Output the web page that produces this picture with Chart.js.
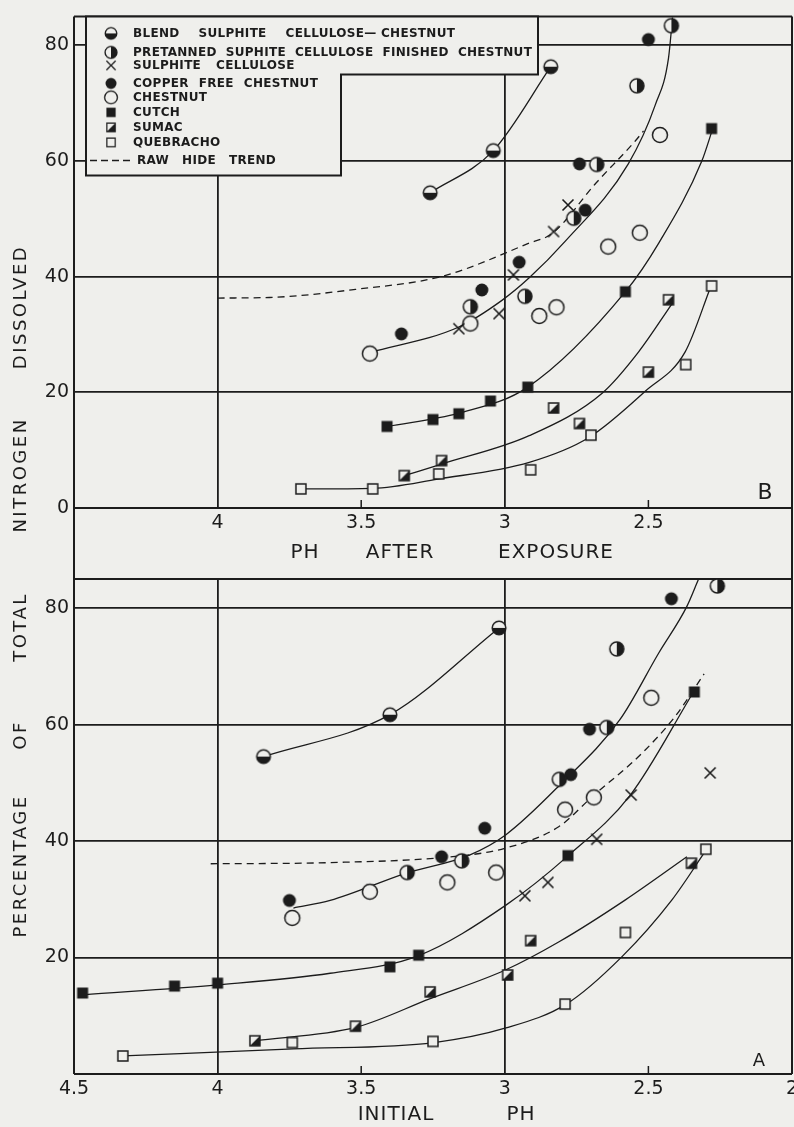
<!DOCTYPE html>
<html>
<head>
<meta charset="utf-8">
<title>Percentage of total nitrogen dissolved vs pH</title>
<script src="https://cdn.jsdelivr.net/npm/chart.js@4.4.1/dist/chart.umd.min.js"></script>
<style>
  html, body { margin: 0; padding: 0; }
  body { width: 794px; height: 1127px; overflow: hidden; position: relative; background: #efefec;
         font-family: "DejaVu Sans", sans-serif; color: #1c1c1c; }
  canvas { position: absolute; left: 0; }
  #panelB { top: 0; }
  #panelA { top: 560px; }
  .t { position: absolute; white-space: nowrap; line-height: 1; font-size: 20px; letter-spacing: 1px;
       transform: translate(-50%, -50%); }
  .v { font-size: 18px; letter-spacing: 2.5px; transform: translate(-50%, -50%) rotate(-90deg); }
</style>
</head>
<body>
<canvas id="panelB" width="820" height="560"></canvas>
<canvas id="panelA" width="820" height="567"></canvas>

<div class="t v" style="left:20px;top:307px">DISSOLVED</div>
<div class="t v" style="left:20px;top:475px">NITROGEN</div>
<div class="t v" style="left:20px;top:627px">TOTAL</div>
<div class="t v" style="left:20px;top:735px">OF</div>
<div class="t v" style="left:20px;top:866px">PERCENTAGE</div>

<div class="t" style="left:305px;top:551px">PH</div>
<div class="t" style="left:400px;top:551px">AFTER</div>
<div class="t" style="left:556px;top:551px">EXPOSURE</div>

<div class="t" style="left:396px;top:1113px">INITIAL</div>
<div class="t" style="left:521px;top:1113px">PH</div>

<script>
const ink = '#1c1c1c';
const paper = '#efefec';

// axis ticks
const phTicksB = [4, 3.5, 3, 2.5];
const phTicksA = [4.5, 4, 3.5, 3, 2.5, 2];
const nTicksB = [0, 20, 40, 60, 80];
const nTicksA = [20, 40, 60, 80];
const phRuled = [4, 3];        // full vertical rules
const phNotched = [3.5, 2.5];  // short ticks only

// Panel B - pH after exposure   [pH, % of total N dissolved]
const blendB = [[3.26, 54.5], [3.04, 61.8], [2.84, 76.3]];
const pretannedB = [[3.12, 34.8], [2.93, 36.6], [2.76, 50.1], [2.68, 59.4], [2.54, 73.0], [2.42, 83.4]];
const sulphiteB = [[3.16, 31.0], [3.02, 33.6], [2.97, 40.3], [2.83, 47.8], [2.78, 52.4]];
const copperB = [[3.36, 30.1], [3.08, 37.7], [2.95, 42.5], [2.72, 51.5], [2.74, 59.5], [2.50, 81.0]];
const chestnutB = [[3.47, 26.7], [3.12, 31.9], [2.88, 33.2], [2.82, 34.7], [2.64, 45.2], [2.53, 47.6], [2.46, 64.5]];
const cutchB = [[3.41, 14.1], [3.25, 15.3], [3.16, 16.3], [3.05, 18.5], [2.92, 20.9], [2.58, 37.4], [2.28, 65.6]];
const sumacB = [[3.35, 5.6], [3.22, 8.2], [2.83, 17.3], [2.74, 14.6], [2.50, 23.5], [2.43, 36.0]];
const quebrachoB = [[3.71, 3.3], [3.46, 3.3], [3.23, 5.9], [2.91, 6.6], [2.70, 12.6], [2.37, 24.8], [2.28, 38.4]];

// drawn curves, panel B
const mainFitB = [[3.47, 26.9], [3.16, 31.3], [3.01, 35.9], [2.915, 39.8], [2.79, 46.1], [2.57, 59.5], [2.476, 69.7], [2.43, 77.8], [2.416, 84.8]];
const rawFitB = [[4.0, 36.3], [3.82, 36.4], [3.52, 37.8], [3.215, 40.1], [2.915, 45.8], [2.834, 47.5], [2.684, 56.1], [2.545, 63.5], [2.517, 65.2]];
const cutchFitB = [[3.41, 14.1], [3.16, 16.4], [2.92, 20.9], [2.58, 37.4], [2.464, 45.8], [2.314, 60.0], [2.276, 65.6]];
const sumacFitB = [[3.35, 5.6], [3.22, 7.6], [2.915, 12.5], [2.66, 19.9], [2.534, 27.0], [2.418, 35.3]];
const quebFitB = [[3.71, 3.3], [3.46, 3.4], [3.233, 5.0], [2.915, 7.9], [2.707, 12.2], [2.511, 20.2], [2.372, 27.0], [2.282, 38.4]];

// Panel A - initial pH
const blendA = [[3.84, 54.5], [3.40, 61.7], [3.02, 76.6]];
const pretannedA = [[3.34, 34.6], [3.15, 36.6], [2.81, 50.6], [2.645, 59.5], [2.61, 73.0], [2.26, 83.8]];
const sulphiteA = [[2.93, 30.6], [2.85, 32.9], [2.68, 40.3], [2.56, 47.9], [2.285, 51.7]];
const copperA = [[3.75, 29.8], [3.22, 37.3], [3.07, 42.2], [2.77, 51.4], [2.705, 59.2], [2.42, 81.6]];
const chestnutA = [[3.74, 26.8], [3.47, 31.3], [3.20, 32.9], [3.03, 34.6], [2.79, 45.4], [2.69, 47.5], [2.49, 64.6]];
const cutchA = [[4.47, 13.9], [4.15, 15.1], [4.00, 15.6], [3.40, 18.4], [3.30, 20.4], [2.78, 37.5], [2.34, 65.6]];
const sumacA = [[3.87, 5.7], [3.52, 8.2], [3.26, 14.1], [2.99, 17.0], [2.91, 22.9], [2.35, 36.2]];
const quebrachoA = [[4.33, 3.1], [3.74, 5.4], [3.25, 5.6], [2.79, 12.0], [2.58, 24.3], [2.30, 38.6]];

// drawn curves, panel A
const mainFitA = [[3.736, 28.5], [3.608, 29.8], [3.343, 34.5], [3.123, 37.6], [2.996, 41.1], [2.811, 49.5], [2.60, 60.8], [2.464, 72.3], [2.366, 80.3], [2.326, 84.9]];
const rawFitA = [[4.024, 36.1], [3.608, 36.3], [3.146, 37.5], [2.996, 38.8], [2.811, 42.5], [2.696, 47.6], [2.522, 55.1], [2.407, 61.4], [2.306, 68.7]];
const cutchFitA = [[4.469, 13.6], [4.0, 15.3], [3.608, 17.3], [3.302, 20.3], [2.996, 29.0], [2.779, 37.5], [2.563, 47.9], [2.343, 65.6]];
const sumacFitA = [[3.874, 5.7], [3.52, 8.0], [3.262, 12.9], [2.996, 17.9], [2.811, 22.7], [2.58, 29.9], [2.366, 37.3]];
const quebFitA = [[4.328, 3.1], [3.735, 4.3], [3.246, 5.4], [2.996, 7.9], [2.786, 12.0], [2.591, 20.2], [2.418, 29.9], [2.297, 38.6]];

// marker pictures, used as pointStyle
function makeMarker(kind) {
  const c = document.createElement('canvas');
  c.width = 20; c.height = 20;
  const g = c.getContext('2d');
  const m = 10;
  g.lineWidth = 1.5;
  g.strokeStyle = ink;
  const circle = r => { g.beginPath(); g.arc(m, m, r, 0, Math.PI * 2); };
  if (kind === 'blend') {
    circle(6.8); g.fillStyle = paper; g.fill();
    g.beginPath(); g.arc(m, m, 6.8, 0, Math.PI); g.closePath(); g.fillStyle = ink; g.fill();
    circle(6.8); g.stroke();
  } else if (kind === 'pretanned') {
    circle(7); g.fillStyle = paper; g.fill();
    g.beginPath(); g.arc(m, m, 7, -Math.PI / 2, Math.PI / 2); g.closePath(); g.fillStyle = ink; g.fill();
    circle(7); g.stroke();
  } else if (kind === 'cross') {
    g.lineWidth = 1.6;
    g.beginPath();
    g.moveTo(m - 5.5, m - 5.5); g.lineTo(m + 5.5, m + 5.5);
    g.moveTo(m + 5.5, m - 5.5); g.lineTo(m - 5.5, m + 5.5);
    g.stroke();
  } else if (kind === 'copper') {
    circle(6.5); g.fillStyle = ink; g.fill();
  } else if (kind === 'chestnut') {
    circle(7.5); g.fillStyle = paper; g.fill(); g.stroke();
  } else if (kind === 'cutch') {
    g.fillStyle = ink; g.fillRect(m - 5.5, m - 5.5, 11, 11);
  } else if (kind === 'sumac') {
    g.fillStyle = paper; g.fillRect(m - 5, m - 5, 10, 10);
    g.beginPath(); g.moveTo(m + 5, m - 5); g.lineTo(m + 5, m + 5); g.lineTo(m - 5, m + 5); g.closePath();
    g.fillStyle = ink; g.fill();
    g.strokeRect(m - 5, m - 5, 10, 10);
  } else if (kind === 'quebracho') {
    g.fillStyle = paper; g.fillRect(m - 5, m - 5, 10, 10);
    g.strokeRect(m - 5, m - 5, 10, 10);
  }
  return c;
}

const markers = {};
['blend', 'pretanned', 'cross', 'copper', 'chestnut', 'cutch', 'sumac', 'quebracho']
  .forEach(k => { markers[k] = makeMarker(k); });

const toXY = arr => arr.map(([x, y]) => ({ x, y }));

// frame, short ticks, panel letter
const framePlugin = {
  id: 'frame',
  beforeDatasetsDraw(chart, args, opts) {
    const { ctx, chartArea: a } = chart;
    const x = chart.scales.x;
    ctx.save();
    ctx.strokeStyle = ink;
    ctx.lineWidth = 2;
    ctx.beginPath();
    ctx.moveTo(a.left, a.top); ctx.lineTo(a.right, a.top);
    ctx.moveTo(a.left, a.bottom); ctx.lineTo(a.right, a.bottom);
    const y0 = opts.up ? 0 : a.top;
    const y1 = opts.down ? chart.height : a.bottom;
    ctx.moveTo(a.left, y0); ctx.lineTo(a.left, y1);
    ctx.moveTo(a.right, y0); ctx.lineTo(a.right, y1);
    ctx.stroke();
    ctx.lineWidth = 1.5;
    ctx.beginPath();
    phNotched.forEach(v => {
      const px = x.getPixelForValue(v);
      ctx.moveTo(px, a.bottom); ctx.lineTo(px, a.bottom - 8);
    });
    ctx.stroke();
    ctx.fillStyle = ink;
    ctx.font = opts.font;
    ctx.textAlign = 'center';
    ctx.textBaseline = 'middle';
    ctx.fillText(opts.letter, a.right - opts.dx, a.bottom - opts.dy);
    ctx.restore();
  }
};

// stepped key box of panel B
const legendRows = [
  { kind: 'blend', text: 'BLEND SULPHITE CELLULOSE—\u00a0CHESTNUT', y: 17, gap: 19 },
  { kind: 'pretanned', text: 'PRETANNED SUPHITE CELLULOSE FINISHED CHESTNUT', y: 36, gap: 9 },
  { kind: 'cross', text: 'SULPHITE CELLULOSE', y: 49, gap: 15 },
  { kind: 'copper', text: 'COPPER FREE CHESTNUT', y: 67, gap: 10 },
  { kind: 'chestnut', text: 'CHESTNUT', y: 81, gap: 10 },
  { kind: 'cutch', text: 'CUTCH', y: 96, gap: 10 },
  { kind: 'sumac', text: 'SUMAC', y: 111, gap: 10 },
  { kind: 'quebracho', text: 'QUEBRACHO', y: 126, gap: 10 },
  { kind: 'dash', text: 'RAW HIDE TREND', y: 144, gap: 13 }
];

const keyPlugin = {
  id: 'keyBox',
  afterDatasetsDraw(chart) {
    const { ctx, chartArea: a } = chart;
    const L = a.left + 12, T = a.top;
    ctx.save();
    ctx.beginPath();
    ctx.moveTo(L, T);
    ctx.lineTo(a.left + 464, T);
    ctx.lineTo(a.left + 464, T + 58);
    ctx.lineTo(a.left + 267, T + 58);
    ctx.lineTo(a.left + 267, T + 159);
    ctx.lineTo(L, T + 159);
    ctx.closePath();
    ctx.fillStyle = paper;
    ctx.fill();
    ctx.lineWidth = 2;
    ctx.strokeStyle = ink;
    ctx.stroke();

    ctx.font = 'bold 12px "DejaVu Sans"';
    ctx.fillStyle = ink;
    ctx.textBaseline = 'middle';
    ctx.textAlign = 'left';
    if ('letterSpacing' in ctx) ctx.letterSpacing = '0.3px';
    legendRows.forEach(r => {
      const cy = T + r.y;
      let tx = a.left + 59;
      if (r.kind === 'dash') {
        ctx.lineWidth = 1.5;
        ctx.setLineDash([7, 4]);
        ctx.beginPath(); ctx.moveTo(a.left + 16, cy); ctx.lineTo(a.left + 58, cy); ctx.stroke();
        ctx.setLineDash([]);
        tx = a.left + 63;
      } else {
        ctx.drawImage(markers[r.kind], a.left + 37 - 8.5, cy - 8.5, 17, 17);
      }
      r.text.split(' ').forEach(w => {
        ctx.fillText(w, tx, cy);
        tx += ctx.measureText(w).width + r.gap;
      });
    });
    ctx.restore();
  }
};

function buildPanel(id, p) {
  const datasets = [];
  p.fits.forEach(f => datasets.push({
    type: 'line', data: toXY(f.pts), borderColor: ink, borderWidth: 1.3,
    borderDash: f.dashed ? [7, 5] : [], pointRadius: 0, fill: false,
    cubicInterpolationMode: 'monotone', order: 2
  }));
  p.marks.forEach(mk => datasets.push({
    type: 'scatter', data: toXY(mk.pts), pointStyle: markers[mk.kind],
    pointRadius: 7, clip: 10, order: 1
  }));

  const tickFont = { family: '"DejaVu Sans"', size: 19 };
  return new Chart(document.getElementById(id), {
    type: 'scatter',
    data: { datasets },
    plugins: p.plugins,
    options: {
      responsive: false,
      animation: false,
      events: [],
      layout: { padding: { top: p.top, right: 28, bottom: 0, left: 0 } },
      plugins: {
        legend: { display: false },
        tooltip: { enabled: false },
        frame: p.frame
      },
      scales: {
        x: {
          type: 'linear', reverse: true, min: 2, max: 4.5,
          afterBuildTicks: s => { s.ticks = p.phTicks.map(v => ({ value: v })); },
          afterFit: s => { s.height = p.xh; },
          ticks: { font: tickFont, color: ink, padding: 4, maxRotation: 0, autoSkip: false,
                   callback: v => String(v) },
          grid: { drawTicks: false, lineWidth: 1.8,
                  color: c => phRuled.includes(c.tick && c.tick.value) ? ink : 'rgba(0,0,0,0)' },
          border: { display: false }
        },
        y: {
          type: 'linear', min: 0, max: 85,
          afterBuildTicks: s => { s.ticks = p.nTicks.map(v => ({ value: v })); },
          afterFit: s => { s.width = 74; },
          ticks: { font: tickFont, color: ink, padding: 5 },
          grid: { drawTicks: false, lineWidth: 1.8, color: ink },
          border: { display: false }
        }
      }
    }
  });
}

buildPanel('panelB', {
  top: 12, xh: 52, phTicks: phTicksB, nTicks: nTicksB,
  plugins: [framePlugin, keyPlugin],
  frame: { up: false, down: true, letter: 'B', font: '22px "DejaVu Sans"', dx: 27, dy: 15 },
  fits: [
    { pts: blendB }, { pts: mainFitB }, { pts: rawFitB, dashed: true },
    { pts: cutchFitB }, { pts: sumacFitB }, { pts: quebFitB }
  ],
  marks: [
    { kind: 'blend', pts: blendB }, { kind: 'pretanned', pts: pretannedB },
    { kind: 'cross', pts: sulphiteB }, { kind: 'copper', pts: copperB },
    { kind: 'chestnut', pts: chestnutB }, { kind: 'cutch', pts: cutchB },
    { kind: 'sumac', pts: sumacB }, { kind: 'quebracho', pts: quebrachoB }
  ]
});

buildPanel('panelA', {
  top: 19, xh: 53, phTicks: phTicksA, nTicks: nTicksA,
  plugins: [framePlugin],
  frame: { up: true, down: false, letter: 'A', font: '18px "DejaVu Sans"', dx: 33, dy: 13 },
  fits: [
    { pts: blendA }, { pts: mainFitA }, { pts: rawFitA, dashed: true },
    { pts: cutchFitA }, { pts: sumacFitA }, { pts: quebFitA }
  ],
  marks: [
    { kind: 'blend', pts: blendA }, { kind: 'pretanned', pts: pretannedA },
    { kind: 'cross', pts: sulphiteA }, { kind: 'copper', pts: copperA },
    { kind: 'chestnut', pts: chestnutA }, { kind: 'cutch', pts: cutchA },
    { kind: 'sumac', pts: sumacA }, { kind: 'quebracho', pts: quebrachoA }
  ]
});
</script>
</body>
</html>
